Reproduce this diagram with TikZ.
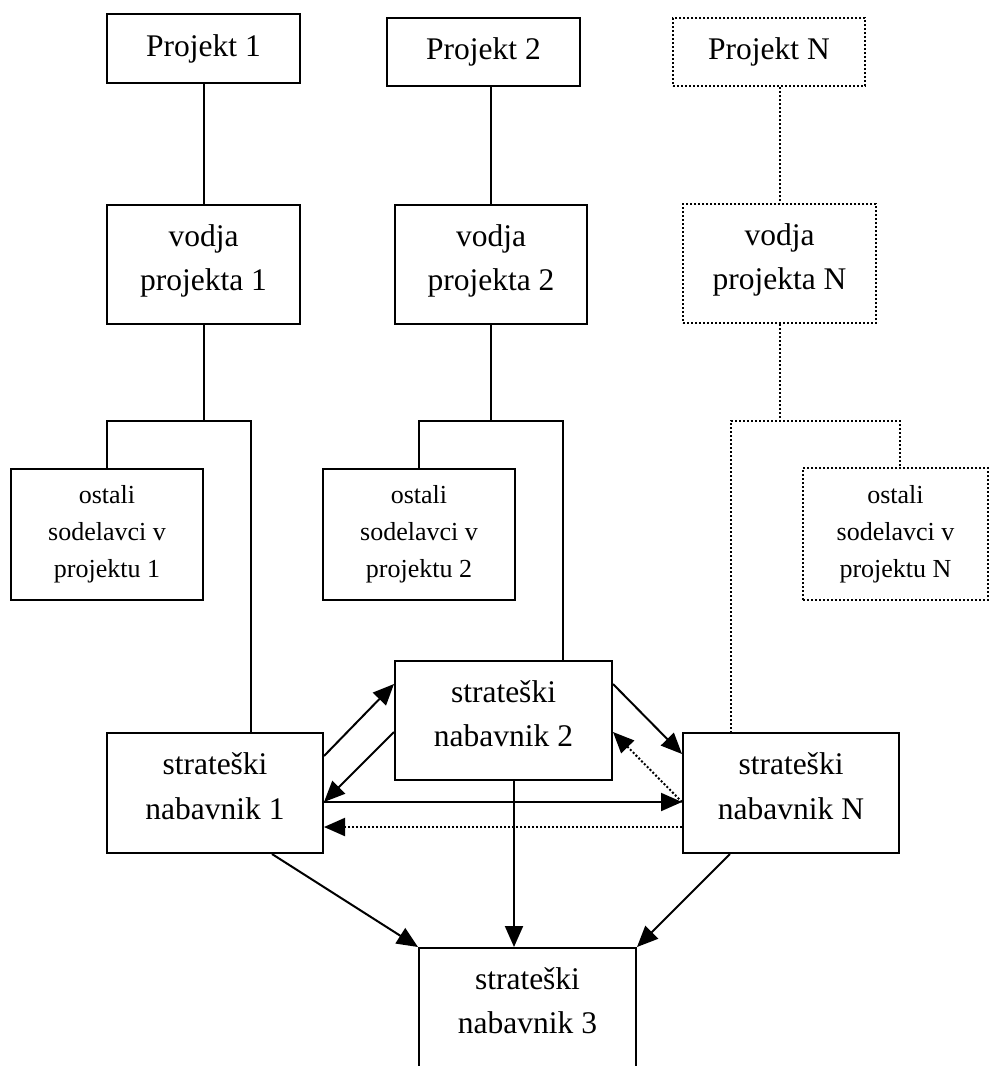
\documentclass[tikz,border=0pt]{standalone}
\usepackage{fontspec}
\setmainfont{Liberation Serif}
\usetikzlibrary{arrows.meta,calc}

% invisible strut that deepens the last line of a two-line label
\newcommand{\dropstrut}{\rule[-13.5pt]{0pt}{13.5pt}}

\begin{document}
\begin{tikzpicture}[x=1pt,y=-1pt,
  box/.style={draw, line width=2pt, inner sep=0pt, align=center,
    font=\fontsize{31.5}{44.5}\selectfont},
  smallbox/.style={box, font=\fontsize{26}{37}\selectfont},
  dotbox/.style={dash pattern=on 2pt off 2pt},
  link/.style={line width=2pt},
  dotlink/.style={line width=2pt, dash pattern=on 2pt off 2pt},
  arr/.style={link, -{Triangle[length=21pt,width=18pt]}},
  dotarr/.style={dotlink, -{Triangle[length=21pt,width=18pt]}},
]
\clip (0,0) rectangle (989,1066);
\fill[white] (0,0) rectangle (989,1066);

% projects
\node[box, minimum width=193pt, minimum height=69pt] (P1) at (203.5,48.5) {Projekt 1};
\node[box, minimum width=193pt, minimum height=68pt] (P2) at (483.5,52) {Projekt 2};
\node[box, dotbox, minimum width=192pt, minimum height=68pt] (PN) at (769,52) {Projekt N};

% project leaders
\node[box, minimum width=193pt, minimum height=119pt] (V1) at (203.5,264.5) {vodja\\projekta 1\dropstrut};
\node[box, minimum width=192pt, minimum height=119pt] (V2) at (491,264.5) {vodja\\projekta 2\dropstrut};
\node[box, dotbox, minimum width=193pt, minimum height=119pt] (VN) at (779.5,263.5) {vodja\\projekta N\dropstrut};

% other project members
\node[smallbox, minimum width=192pt, minimum height=131pt] (O1) at (107,534.5) {ostali\\sodelavci v\\projektu 1};
\node[smallbox, minimum width=192pt, minimum height=131pt] (O2) at (419,534.5) {ostali\\sodelavci v\\projektu 2};
\node[smallbox, dotbox, minimum width=185pt, minimum height=132pt] (ON) at (895.5,534) {ostali\\sodelavci v\\projektu N};

% strategic buyers
\node[box, minimum width=216pt, minimum height=120pt] (S1) at (215,793) {strateški\\nabavnik 1\dropstrut};
\node[box, minimum width=217pt, minimum height=119pt] (S2) at (503.5,720.5) {strateški\\nabavnik 2\dropstrut};
\node[box, minimum width=216pt, minimum height=120pt] (SN) at (791,793) {strateški\\nabavnik N\dropstrut};
\node[box, minimum width=217pt, minimum height=119pt] (S3) at (527.5,1007.5) {strateški\\nabavnik 3\dropstrut};

% junction points of the project trees
\coordinate (t1) at (203.5,421);
\coordinate (t2) at (491,421);
\coordinate (tN) at (779.5,421);
\coordinate (s1top) at (251,733);
\coordinate (s2top) at (563,661);
\coordinate (sNtop) at (731,733);
\coordinate (onTop) at (900,468);

% project 1 tree
\draw[link] (P1.south) -- (V1.north);
\draw[link] (V1.south) -- (t1);
\draw[link] (O1.north) |- (s1top |- t1) -- (s1top);

% project 2 tree
\draw[link] (P2.south -| V2.north) -- (V2.north);
\draw[link] (V2.south) -- (t2);
\draw[link] (O2.north) |- (s2top |- t2) -- (s2top);

% project N tree
\draw[dotlink] (PN.south -| VN.north) -- (VN.north);
\draw[dotlink] (VN.south) -- (tN);
\draw[dotlink] (sNtop) |- (onTop |- tN) -- (onTop);

% links between strategic buyers
\draw[arr] ($(S1.north east)+(0,24)$) -- ($(S2.north west)+(0,24)$);
\draw[arr] ($(S2.north west)+(0,72)$) -- ($(S1.north east)+(0,70)$);
\draw[arr] ($(S1.north east)+(0,70)$) -- ($(SN.north west)+(0,70)$);
\draw[dotarr] ($(SN.north west)+(0,95)$) -- ($(S1.north east)+(0,95)$);
\draw[arr] ($(S2.north east)+(0,24)$) -- ($(SN.north west)+(0,22)$);
\draw[dotarr] ($(SN.north west)+(0,70)$) -- ($(S2.north east)+(0,72)$);

% links to strategic buyer 3
\draw[arr] ($(S1.south west)+(166,0)$) -- (S3.north west);
\draw[arr] ($(S2.south west)+(120,0)$) -- ($(S3.north west)+(96,0)$);
\draw[arr] ($(SN.south west)+(48,0)$) -- (S3.north east);
\end{tikzpicture}
\end{document}
